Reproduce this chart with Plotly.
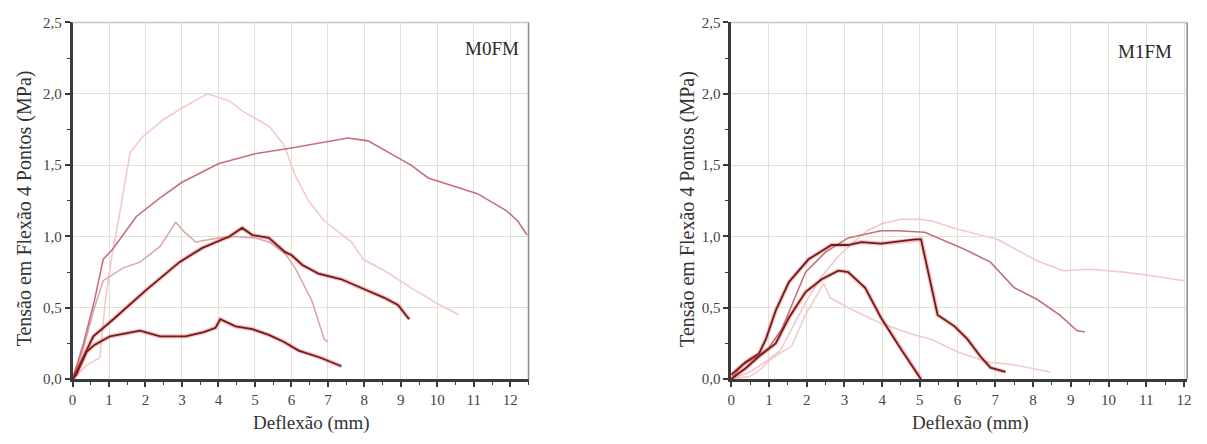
import plotly.graph_objects as go

# ---------------- M0FM (left) ----------------
m0_pale_x = [0, 0.4, 0.75, 0.9, 1.1, 1.25, 1.58, 1.93, 2.5, 3.0, 3.7, 4.3, 4.65, 4.93, 5.4, 5.8, 6.1, 6.47, 6.9, 7.2, 7.65, 7.97, 8.55, 9.28, 10.0, 10.6]
m0_pale_y = [0, 0.1, 0.15, 0.55, 0.9, 1.1, 1.59, 1.7, 1.82, 1.9, 2.0, 1.95, 1.88, 1.84, 1.77, 1.64, 1.43, 1.25, 1.11, 1.05, 0.96, 0.84, 0.76, 0.64, 0.53, 0.45]

m0_light_x = [0, 0.3, 0.6, 0.84, 1.39, 1.85, 2.4, 2.83, 3.07, 3.38, 3.56, 4.0, 4.5, 5.0, 5.4, 5.65, 5.83, 6.1, 6.56, 6.9, 7.0]
m0_light_y = [0, 0.22, 0.5, 0.69, 0.78, 0.82, 0.93, 1.10, 1.03, 0.96, 0.97, 0.99, 1.0, 0.99, 0.96, 0.91, 0.88, 0.78, 0.55, 0.28, 0.26]

m0_med_x = [0, 0.3, 0.6, 0.84, 1.1, 1.75, 2.4, 3.0, 4.0, 5.0, 6.0, 6.9, 7.55, 8.1, 8.65, 9.28, 9.75, 10.37, 11.1, 11.9, 12.2, 12.46]
m0_med_y = [0, 0.25, 0.55, 0.84, 0.91, 1.14, 1.27, 1.38, 1.51, 1.58, 1.62, 1.66, 1.69, 1.67, 1.59, 1.50, 1.41, 1.36, 1.30, 1.18, 1.11, 1.01]

m0_dark1_x = [0, 0.1, 0.57, 1.12, 2.0, 2.93, 3.56, 4.3, 4.65, 4.93, 5.38, 5.65, 5.83, 6.0, 6.3, 6.74, 7.37, 8.0, 8.55, 8.92, 9.23]
m0_dark1_y = [0, 0.05, 0.30, 0.42, 0.62, 0.82, 0.92, 1.0, 1.06, 1.01, 0.99, 0.93, 0.89, 0.87, 0.80, 0.74, 0.70, 0.63, 0.57, 0.52, 0.42]

m0_dark2_x = [0, 0.1, 0.38, 0.6, 1.03, 1.5, 1.85, 2.4, 3.1, 3.6, 3.92, 4.05, 4.47, 4.93, 5.38, 5.8, 6.2, 6.8, 7.37]
m0_dark2_y = [0, 0.03, 0.19, 0.24, 0.30, 0.32, 0.34, 0.30, 0.30, 0.33, 0.36, 0.42, 0.37, 0.35, 0.31, 0.26, 0.20, 0.15, 0.09]

# ---------------- M1FM (right) ----------------
m1_pale_x = [0, 0.5, 0.9, 1.3, 1.6, 2.0, 2.4, 2.8, 3.2, 3.6, 4.0, 4.5, 5.0, 5.3, 6.0, 7.05, 8.1, 8.8, 9.5, 10.4, 11.0, 12.0]
m1_pale_y = [0, 0.05, 0.12, 0.20, 0.35, 0.55, 0.72, 0.85, 0.95, 1.04, 1.09, 1.12, 1.12, 1.11, 1.05, 0.98, 0.83, 0.76, 0.77, 0.75, 0.73, 0.69]

m1_pale2_x = [0, 0.5, 0.74, 1.1, 1.6, 1.97, 2.32, 2.45, 2.63, 3.1, 3.97, 4.42, 4.87, 5.3, 6.0, 6.8, 7.5, 8.45]
m1_pale2_y = [0, 0.02, 0.06, 0.15, 0.23, 0.45, 0.61, 0.67, 0.57, 0.50, 0.39, 0.35, 0.31, 0.28, 0.19, 0.12, 0.10, 0.05]

m1_med_x = [0, 0.3, 0.7, 1.0, 1.34, 1.6, 1.97, 2.5, 3.1, 3.97, 4.42, 5.13, 6.18, 6.87, 7.5, 8.1, 8.7, 9.16, 9.37]
m1_med_y = [0, 0.10, 0.16, 0.22, 0.35, 0.52, 0.75, 0.89, 0.99, 1.04, 1.04, 1.03, 0.91, 0.82, 0.64, 0.56, 0.45, 0.34, 0.33]

m1_dark1_x = [0, 0.39, 0.74, 0.92, 1.18, 1.53, 2.05, 2.66, 3.1, 3.45, 3.97, 4.87, 5.03, 5.3, 5.47, 5.92, 6.26, 6.6, 6.87, 7.27]
m1_dark1_y = [0.03, 0.12, 0.18, 0.28, 0.48, 0.68, 0.84, 0.94, 0.94, 0.96, 0.95, 0.98, 0.98, 0.66, 0.45, 0.37, 0.28, 0.16, 0.08, 0.05]

m1_dark2_x = [0, 0.4, 0.74, 1.18, 1.53, 1.97, 2.4, 2.84, 3.1, 3.55, 3.97, 4.5, 5.03]
m1_dark2_y = [0, 0.08, 0.16, 0.25, 0.43, 0.61, 0.70, 0.76, 0.75, 0.64, 0.43, 0.21, 0.0]

PALE = "#f2caca"
LIGHT = "#dba3ab"
MED = "#c4707a"
DARK = "#6e1c1c"
HALO = "rgba(235,70,70,0.35)"

fig = go.Figure()

def add_line(x, y, color, width, xa, ya, halo=False):
    if halo:
        fig.add_trace(go.Scatter(x=x, y=y, mode="lines", xaxis=xa, yaxis=ya,
                                 line=dict(color=HALO, width=width + 2.5), hoverinfo="skip", showlegend=False))
    fig.add_trace(go.Scatter(x=x, y=y, mode="lines", xaxis=xa, yaxis=ya,
                             line=dict(color=color, width=width), showlegend=False))

add_line(m0_pale_x, m0_pale_y, PALE, 1.6, "x", "y")
add_line(m0_light_x, m0_light_y, LIGHT, 1.5, "x", "y")
add_line(m0_med_x, m0_med_y, MED, 1.6, "x", "y")
add_line(m0_dark1_x, m0_dark1_y, DARK, 1.8, "x", "y", halo=True)
add_line(m0_dark2_x, m0_dark2_y, DARK, 1.8, "x", "y", halo=True)

add_line(m1_pale_x, m1_pale_y, PALE, 1.6, "x2", "y2")
add_line(m1_pale2_x, m1_pale2_y, PALE, 1.6, "x2", "y2")
add_line(m1_med_x, m1_med_y, MED, 1.6, "x2", "y2")
add_line(m1_dark1_x, m1_dark1_y, DARK, 1.8, "x2", "y2", halo=True)
add_line(m1_dark2_x, m1_dark2_y, DARK, 1.8, "x2", "y2", halo=True)

W, H = 1207, 444
FONT = "Liberation Serif"
GRID = "#e2dfd3"
AXC = "#3a3a3a"

def xaxis(dom, rng):
    return dict(domain=dom, range=rng, dtick=1, tick0=0, showgrid=True, gridcolor=GRID, gridwidth=1,
                zeroline=False, showline=True, linecolor=AXC, linewidth=2.5, ticks="outside",
                ticklen=5, tickwidth=1.5, tickcolor=AXC,
                minor=dict(dtick=0.5, ticks="outside", ticklen=3, tickcolor=AXC, tickwidth=1.2, showgrid=False),
                tickfont=dict(family=FONT, size=15, color="#444"), fixedrange=True)

def yaxis(dom, anchor):
    return dict(domain=dom, range=[0, 2.5], dtick=0.5, tick0=0, tickformat=".1f", anchor=anchor,
                showgrid=True, gridcolor=GRID, gridwidth=1,
                zeroline=False, showline=True, linecolor=AXC, linewidth=2.5, ticks="outside",
                ticklen=5, tickwidth=1.5, tickcolor=AXC,
                minor=dict(dtick=0.25, ticks="outside", ticklen=3, tickcolor=AXC, tickwidth=1.2, showgrid=False),
                tickfont=dict(family=FONT, size=15, color="#444"), fixedrange=True)

ydom = [1 - 385 / H, 1 - 15 / H]
x1dom = [69 / W, 528 / W]
x2dom = [732 / W, 1191 / W]

fig.update_layout(
    width=W, height=H, margin=dict(l=0, r=0, t=0, b=0),
    paper_bgcolor="white", plot_bgcolor="white",
    separators=", ",
    font=dict(family=FONT),
    xaxis=dict(**xaxis(x1dom, [0, 12.5]), anchor="y"),
    yaxis=yaxis(ydom, "x"),
    xaxis2=dict(**xaxis(x2dom, [0, 12.08]), anchor="y2"),
    yaxis2=yaxis(ydom, "x2"),
    showlegend=False,
)

# top/right frame lines
for xr, yr in (("x domain", "y domain"), ("x2 domain", "y2 domain")):
    fig.add_shape(type="line", xref=xr, yref=yr, x0=0, x1=1, y0=1, y1=1, line=dict(color="#c8c8c8", width=1.5))
    fig.add_shape(type="line", xref=xr, yref=yr, x0=1, x1=1, y0=0, y1=1, line=dict(color="#8a8a8a", width=1.5))

ann = []
# axis titles
for cx in (310, 973):
    ann.append(dict(text="Deflexão (mm)", x=cx / W, y=1 - 431 / H, xref="paper", yref="paper",
                    showarrow=False, font=dict(family=FONT, size=19, color="#333"), xanchor="center", yanchor="middle"))
for cx in (21, 688):
    ann.append(dict(text="Tensão em Flexão 4 Pontos (MPa)", x=cx / W, y=1 - 208 / H, xref="paper", yref="paper",
                    textangle=-90, showarrow=False, font=dict(family=FONT, size=20, color="#333"),
                    xanchor="center", yanchor="middle"))
# panel labels
ann.append(dict(text="M0FM", x=520 / W, y=1 - 42 / H, xref="paper", yref="paper", showarrow=False,
                font=dict(family=FONT, size=19, color="#2a2a2a"), xanchor="right", yanchor="middle"))
ann.append(dict(text="M1FM", x=1178 / W, y=1 - 45 / H, xref="paper", yref="paper", showarrow=False,
                font=dict(family=FONT, size=19, color="#2a2a2a"), xanchor="right", yanchor="middle"))
fig.update_layout(annotations=ann)

fig.write_html("out.html")
